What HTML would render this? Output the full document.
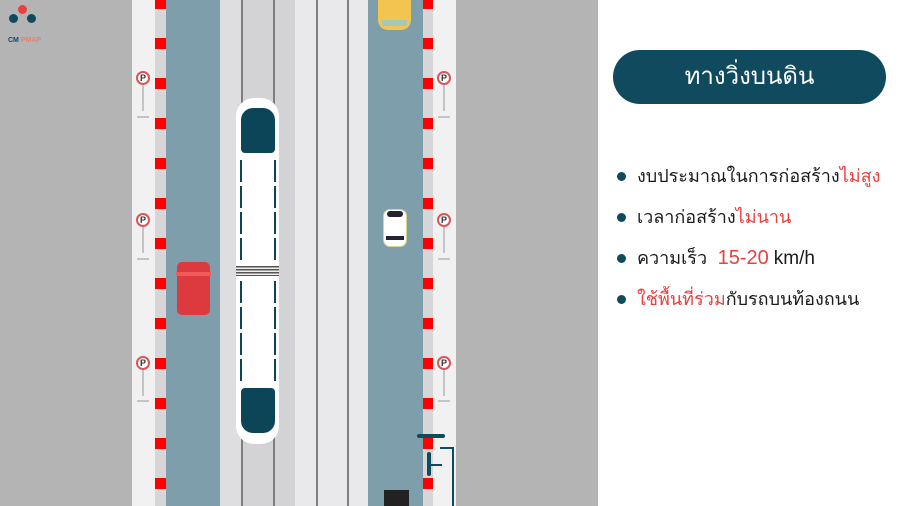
<!DOCTYPE html>
<html><head><meta charset="utf-8"><style>
body{margin:0;width:900px;height:506px;overflow:hidden;background:#fff;position:relative;font-family:"Liberation Sans","Noto Sans CJK SC",sans-serif}
.a{position:absolute}
.stripe{background:repeating-linear-gradient(to bottom,#d6d6d8 0,#d6d6d8 29px,#f00 29px,#f00 49px,#d6d6d8 49px,#d6d6d8 69px);background-size:100% 40px;background-position:0 9px}
.ln{background:#7e7e80;width:1.5px;top:0;height:506px}
.sign{width:14px;height:14px;border:2px solid #d9555a;border-radius:50%;background:#fff;box-sizing:border-box;font:bold 9px/10px "Liberation Sans",sans-serif;text-align:center;color:#333}
.pole{width:2px;background:#c4c4c4;height:26px}
.base{width:12px;height:2px;background:#c4c4c4}
.bul{width:9px;height:9px;border-radius:50%;background:#104a5e;left:617px}
.t{left:637px;font-size:18px;color:#1a1a1a;white-space:nowrap;line-height:22px}
.r{color:#e8403e}
</style></head><body>
<div class="a" style="left:0;top:0;width:132px;height:506px;background:#b4b4b4"></div>
<div class="a" style="left:456px;top:0;width:142px;height:506px;background:#b4b4b4"></div>
<div class="a" style="left:132px;top:0;width:23px;height:506px;background:#f1f1f2"></div>
<div class="a" style="left:433px;top:0;width:23px;height:506px;background:#f1f1f2"></div>
<div class="a stripe" style="left:155px;top:0;width:11px;height:506px"></div>
<div class="a stripe" style="left:423px;top:0;width:10px;height:506px"></div>
<div class="a" style="left:166px;top:0;width:54px;height:506px;background:#7f9eab"></div>
<div class="a" style="left:368px;top:0;width:55px;height:506px;background:#7f9eab"></div>
<div class="a" style="left:220px;top:0;width:148px;height:506px;background:#e9e9eb"></div>
<div class="a" style="left:241px;top:0;width:54px;height:506px;background:#d3d3d6"></div>
<div class="a" style="left:220px;top:0;width:21px;height:506px;background:#dedee0"></div>
<div class="a ln" style="left:241px"></div>
<div class="a ln" style="left:273px"></div>
<div class="a ln" style="left:316px"></div>
<div class="a ln" style="left:347px"></div>
<!-- tram -->
<div class="a" style="left:236px;top:98px;width:43px;height:346px;background:#fff;border-radius:18px 18px 18px 18px"></div>
<div class="a" style="left:241px;top:108px;width:34px;height:45px;background:#0d4558;border-radius:12px 12px 4px 4px"></div>
<div class="a" style="left:241px;top:388px;width:34px;height:45px;background:#0d4558;border-radius:4px 4px 12px 12px"></div>
<div class="a" style="left:236px;top:266px;width:43px;height:10px;background:repeating-linear-gradient(#555 0,#555 1.5px,#eee 1.5px,#eee 3px)"></div>
<div class="a" style="left:240px;top:160px;width:2px;height:102px;background:repeating-linear-gradient(#0d4558 0,#0d4558 22px,transparent 22px,transparent 26px)"></div>
<div class="a" style="left:274px;top:160px;width:2px;height:102px;background:repeating-linear-gradient(#0d4558 0,#0d4558 22px,transparent 22px,transparent 26px)"></div>
<div class="a" style="left:240px;top:281px;width:2px;height:102px;background:repeating-linear-gradient(#0d4558 0,#0d4558 22px,transparent 22px,transparent 26px)"></div>
<div class="a" style="left:274px;top:281px;width:2px;height:102px;background:repeating-linear-gradient(#0d4558 0,#0d4558 22px,transparent 22px,transparent 26px)"></div>
<!-- cars -->
<div class="a" style="left:378px;top:-4px;width:33px;height:34px;background:#f2c450;border-radius:4px 4px 10px 10px"></div>
<div class="a" style="left:382px;top:20px;width:25px;height:6px;background:#a8c7b5"></div>
<div class="a" style="left:383px;top:209px;width:24px;height:38px;background:#fff;border:1.5px solid #d8d38b;border-radius:7px;box-sizing:border-box"></div>
<div class="a" style="left:387px;top:211px;width:16px;height:6px;background:#223;border-radius:3px"></div>
<div class="a" style="left:386px;top:236px;width:18px;height:4px;background:#223"></div>
<div class="a" style="left:177px;top:262px;width:33px;height:53px;background:#dc3a3f;border-radius:5px"></div>
<div class="a" style="left:176px;top:272px;width:35px;height:4px;background:#f05a5a"></div>
<div class="a" style="left:384px;top:490px;width:25px;height:16px;background:#222"></div>
<!-- signal -->
<div class="a" style="left:417px;top:434px;width:28px;height:4px;background:#104a5e;border-radius:2px"></div>
<div class="a" style="left:440px;top:447px;width:14px;height:59px;border:2px solid #104a5e;border-bottom:none;border-left:none;box-sizing:border-box"></div>
<div class="a" style="left:429px;top:464px;width:13px;height:2px;background:#104a5e"></div>
<div class="a" style="left:427px;top:452px;width:4px;height:24px;background:#104a5e;border-radius:2px"></div>
<!-- signs -->
<div class="a sign" style="left:136px;top:71px">P</div><div class="a pole" style="left:142px;top:85px"></div><div class="a base" style="left:137px;top:116px"></div>
<div class="a sign" style="left:136px;top:213px">P</div><div class="a pole" style="left:142px;top:227px"></div><div class="a base" style="left:137px;top:258px"></div>
<div class="a sign" style="left:136px;top:356px">P</div><div class="a pole" style="left:142px;top:370px"></div><div class="a base" style="left:137px;top:400px"></div>
<div class="a sign" style="left:437px;top:71px">P</div><div class="a pole" style="left:443px;top:85px"></div><div class="a base" style="left:438px;top:116px"></div>
<div class="a sign" style="left:437px;top:213px">P</div><div class="a pole" style="left:443px;top:227px"></div><div class="a base" style="left:438px;top:258px"></div>
<div class="a sign" style="left:437px;top:356px">P</div><div class="a pole" style="left:443px;top:370px"></div><div class="a base" style="left:438px;top:400px"></div>
<!-- logo -->
<div class="a" style="left:18px;top:5px;width:9px;height:9px;border-radius:50%;background:#e8403e"></div>
<div class="a" style="left:9px;top:14px;width:9px;height:9px;border-radius:50%;background:#104a5e"></div>
<div class="a" style="left:27px;top:14px;width:9px;height:9px;border-radius:50%;background:#104a5e"></div>
<div class="a" style="left:8px;top:37px;font:bold 7px 'Liberation Sans',sans-serif;color:#104a5e">CM <span style="color:#e8806e">PMAP</span></div>
<!-- panel -->
<div class="a" style="left:613px;top:50px;width:273px;height:54px;background:#104a5e;border-radius:27px;color:#fff;font-size:24px;line-height:54px;text-align:center">ทางวิ่งบนดิน</div>
<div class="a bul" style="top:172px"></div><div class="a t" style="top:165px">งบประมาณในการก่อสร้าง<span class="r">ไม่สูง</span></div>
<div class="a bul" style="top:213px"></div><div class="a t" style="top:206px">เวลาก่อสร้าง<span class="r">ไม่นาน</span></div>
<div class="a bul" style="top:254px"></div><div class="a t" style="top:247px">ความเร็ว <span class="r" style="font-size:20px">&nbsp;15-20</span> <span style="font-size:19px">km/h</span></div>
<div class="a bul" style="top:295px"></div><div class="a t" style="top:288px"><span class="r">ใช้พื้นที่ร่วม</span>กับรถบนท้องถนน</div>
</body></html>
